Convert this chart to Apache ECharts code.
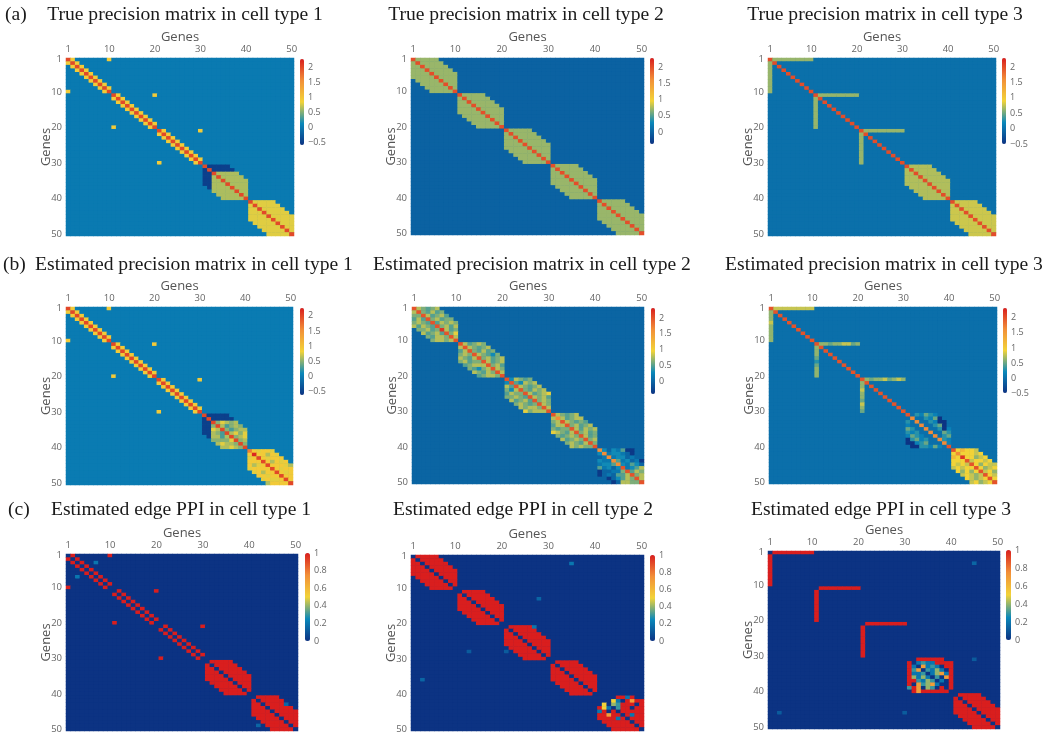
<!DOCTYPE html>
<html>
<head>
<meta charset="utf-8">
<script src="https://cdn.jsdelivr.net/npm/echarts@6/dist/echarts.min.js"></script>
<style>
  html, body { margin: 0; background: #fff; }
  #main { width: 1061px; height: 738px; }
</style>
</head>
<body>
<div id="main"></div>
<script>
// ---- data ---------------------------------------------------------------
const genes = Array.from({ length: 50 }, (_, i) => String(i + 1));
const geneTicks = ['1', '10', '20', '30', '40', '50'];

const titles = [
  'True precision matrix in cell type 1', 'True precision matrix in cell type 2', 'True precision matrix in cell type 3',
  'Estimated precision matrix in cell type 1', 'Estimated precision matrix in cell type 2', 'Estimated precision matrix in cell type 3',
  'Estimated edge PPI in cell type 1', 'Estimated edge PPI in cell type 2', 'Estimated edge PPI in cell type 3'
];
const rowTags = ['(a)', '(b)', '(c)'];

// colour bar ranges and their tick labels
const barRanges = [[-0.6, 2.27], [-0.37, 2.28], [-0.5, 2.29], [-0.61, 2.26], [-0.4, 2.32], [-0.5, 2.33], [0, 1], [0, 1], [0, 1]];
const precTicks = [-0.5, 0, 0.5, 1, 1.5, 2];
const precTicksPos = [0, 0.5, 1, 1.5, 2];
const ppiTicks = [0, 0.2, 0.4, 0.6, 0.8, 1];

// cell codes
const precCodes = { '.': 0, n: -0.5, m: -0.35, c: 0.15, t: 0.3, g: 0.5, o: 0.62, p: 0.7, l: 0.78, y: 0.92, a: 1.2, O: 1.65, R: 2.0, D: 2.2 };
const ppiCodes = { '.': 0, c: 0.2, t: 0.3, g: 0.4, y: 0.5, o: 0.7, O: 0.85, r: 1 };

// (a) true precision, cell type 1
const p1Rings = [[1, 10, 'y'], [11, 20, 'y'], [21, 30, 'y']];
const p1Bands = [[31, 40, 5, 'o'], [41, 50, 5, 'l']];
const p1Hubs = [[31, 32, 36, 'nnnnn', 'nnnnn'], [32, 33, 37, 'nnnnn', 'nnnnn']];

// (a) true precision, cell type 2
const p2Bands = [[1, 10, 5, 'p'], [11, 20, 5, 'p'], [21, 30, 5, 'p'], [31, 40, 5, 'p'], [41, 50, 5, 'p']];

// (a) true precision, cell type 3
const p3Hubs = [[1, 2, 10, 'ooooooooo', 'ooooooooo'], [11, 12, 20, 'ooooooooo', 'ooooooooo'], [21, 22, 30, 'ooooooooo', 'ooooooooo']];
const p3Bands = [[31, 40, 5, 'p'], [41, 50, 5, 'l']];

// (b) estimated precision, cell type 1
const p4Rings = [[1, 10, 'y'], [11, 20, 'y'], [21, 30, 'y']];
const p4Block31 = [
  'Rnnnnn....', 'nRnnnnn...', 'nnRglogo..', 'nngRotgog.', 'nnloRgtgoo',
  'nnogtRolgl', '.nootoRgol', '..gggglRgo', '...oloogRg', '....oologR'];
const p4Block41 = [
  'Oylyyl....', 'yDyyoyl...', 'lyRylyyy..', 'yyyRyoyly.', 'yolyRyyylo',
  'lyyyyRylyy', '.lyoyyRyly', '..yylyyRyy', '...lyllyRy', '....oyyyyR'];

// (b) estimated precision, cell type 2
const p5Block1 = [
  'Rlogol....', 'lRoglgo...', 'ooRlgolg..', 'glgRolgoo.', 'ologRglolo',
  'lglogRolgl', '.oolgoDlgo', '..lgolgRoy', '...oglloRl', '....ollolR'];
const p5Block11 = [
  'Rlgolo....', 'lRlogol...', 'glRoglgo..', 'oloRlogto.', 'loglRolgol',
  'olgooRlgol', '.golllRolg', '..ogtolRlo', '...logloRl', '....golloR'];
const p5Block21 = [
  'Rtlogo....', 'tRgtlol...', 'lgRlogol..', 'otlRoglol.', 'glooRlgoly',
  'oologRlolg', '.lgolgRolo', '..ologoRlo', '...lolloRl', '....yolllR'];
const p5Block31 = [
  'Rlogol....', 'lOlgoll...', 'olRlogog..', 'gllRolgol.', 'ogooRlglol',
  'yloglRolgo', '.ogoloRlgo', '..lgoloRol', '...ologlRo', '....lolooR'];
const p5Block41 = [
  'Ot.tcgmm..', 'tOcttc.m..', '.cOctt.c..', 'tccOgct.cm', 'cttgOtcgt.',
  'gct.tRctgl', 'm..ccoRglo', 'm.c.gglRol', '..m.tgloRl', '...m.llooR'];

// (b) estimated precision, cell type 3
const p6Hubs = [[1, 2, 10, 'lllllllll', 'ooolooooo'], [11, 12, 20, 'oogoollgo', 'ooogtgooo'], [21, 22, 30, 'ogoolgolo', 'oolooglog']];
const p6Block31 = [
  'R.tcgtc...', '.O..tcgn..', 't.O..tcnn.', 'c..O..tgn.', 'gt..O..tnc',
  'tct..O..gt', 'cgtc..O.tg', 'ntgct..Otc', 'nnctg...Oc', '.nnttcgc.R'];
const p6Block41 = [
  'Ryayyl....', 'yOyyyly...', 'ayDyyoly..', 'yyyRlyyly.', 'ylylRyoyll',
  'lylyyRyoly', '.yoyoyRlyo', '..lylolRyl', '...ylolyRy', '....lyolyR'];

// (c) edge PPI, cell type 1
const p7Rings = [[1, 10, 'r'], [11, 20, 'r'], [21, 30, 'r']];
const p7Bands = [[31, 40, 5, 'r'], [41, 50, 5, 'r']];
const p7Spots = [[3, 7, 0.2], [7, 3, 0.2], [43, 48, 0.15], [49, 42, 0.15]];

// (c) edge PPI, cell type 2
const p8Bands = [[1, 10, 5, 'r'], [11, 20, 5, 'r'], [21, 30, 5, 'r'], [31, 40, 5, 'r']];
const p8Block41 = [
  '....rrcr..', '...yc.rorr', '.y.gtrrr.r', 'ryc.trr.rr', 'cr.r.rrrrr',
  'rrorr.rcrr', 'rrrrcr.rrr', '.rrrrrr.rr', '..rrrrrr.r', '...rrrrrr.'];
const p8Spots = [[3, 35, 0.2], [36, 3, 0.15], [13, 28, 0.15], [28, 13, 0.12], [21, 27, 0.2], [28, 21, 0.12]];

// (c) edge PPI, cell type 3
const p9Hubs = [[1, 2, 10, 'rrrrrrrrr', 'rrrrrrrrr'], [11, 12, 20, 'rrrrrrrrr', 'rrrrrrrrr'], [21, 22, 30, 'rrrrrrrrr', 'rrrrrrrrr']];
const p9Bands = [[41, 50, 5, 'r']];
const p9Block31 = [
  '..rrrrrr..', 'r.ctccrrrr', 'rc.octc.rr', 'rto.tcgc.r', 'rcct.cgocr',
  'rgcgc.t.or', 'rrtcgt.c.r', 'r.otgoc..r', 'tro.gt.r.r', '.rorrrrrr.'];
const p9Spots = [[4, 45, 0.15], [46, 3, 0.12], [31, 45, 0.12], [46, 30, 0.12]];

const panelSpecs = [
  { codes: precCodes, diag: 'R', bands: p1Bands, hubs: p1Hubs, rings: p1Rings },
  { codes: precCodes, diag: 'R', bands: p2Bands },
  { codes: precCodes, diag: 'R', bands: p3Bands, hubs: p3Hubs },
  { codes: precCodes, diag: 'R', rings: p4Rings, patches: [[31, 31, p4Block31], [41, 41, p4Block41]] },
  { codes: precCodes, patches: [[1, 1, p5Block1], [11, 11, p5Block11], [21, 21, p5Block21], [31, 31, p5Block31], [41, 41, p5Block41]] },
  { codes: precCodes, diag: 'R', hubs: p6Hubs, patches: [[31, 31, p6Block31], [41, 41, p6Block41]] },
  { codes: ppiCodes, diag: '.', bands: p7Bands, rings: p7Rings, spots: p7Spots },
  { codes: ppiCodes, diag: '.', bands: p8Bands, patches: [[41, 41, p8Block41]], spots: p8Spots },
  { codes: ppiCodes, diag: '.', bands: p9Bands, hubs: p9Hubs, patches: [[31, 31, p9Block31]], spots: p9Spots }
];

// ---- layout (px) ---------------------------------------------------------
const LAYOUT = [
  { grid: [66, 58, 228, 178], bar: [300, 59, 4, 86], title: [185, 15] },
  { grid: [411, 58, 233, 177], bar: [650, 58, 4, 86], title: [526, 15] },
  { grid: [768, 58, 228, 178], bar: [1002, 58, 4, 86], title: [885, 15] },
  { grid: [66, 307, 227, 178], bar: [300, 308, 4, 87], title: [194, 265] },
  { grid: [412, 307, 232, 177], bar: [651, 308, 4, 86], title: [532, 265] },
  { grid: [769, 307, 228, 177], bar: [1003, 308, 4, 85], title: [884, 265] },
  { grid: [66, 554, 232, 177], bar: [305, 553, 5, 88], title: [181, 510] },
  { grid: [411, 555, 233, 176], bar: [650, 555, 5, 86], title: [523, 510] },
  { grid: [768, 551, 232, 178], bar: [1006, 550, 5, 90], title: [881, 510] }
];
const TAGS = [[5, 15], [3, 265], [8, 510]];

const portland = ['rgb(12,51,131)', 'rgb(10,136,186)', 'rgb(242,211,56)', 'rgb(242,143,56)', 'rgb(217,30,30)'];
const AXIS_FONT = 'Open Sans';
const SERIF = 'Liberation Serif';

function buildMatrix(p) {
  const codes = p.codes;
  const m = genes.map(() => genes.map(() => 0));
  const set = (i, j, ch) => { if (ch in codes) m[i - 1][j - 1] = codes[ch]; };
  (p.bands || []).forEach(([a, b, w, ch]) => {
    for (let i = a; i <= b; i++)
      for (let j = a; j <= b; j++)
        if (Math.abs(i - j) <= w) set(i, j, ch);
  });
  (p.hubs || []).forEach(([h, a, b, rowStr, colStr]) => {
    for (let k = a; k <= b; k++) { set(h, k, rowStr[k - a]); set(k, h, colStr[k - a]); }
  });
  (p.rings || []).forEach(([a, b, ch]) => {
    for (let i = a; i < b; i++) { set(i, i + 1, ch); set(i + 1, i, ch); }
    set(a, b, ch); set(b, a, ch);
  });
  if (p.diag) for (let i = 1; i <= 50; i++) set(i, i, p.diag);
  (p.patches || []).forEach(([r0, c0, rows]) => {
    rows.forEach((s, di) => [...s].forEach((ch, dj) => set(r0 + di, c0 + dj, ch)));
  });
  (p.spots || []).forEach(([i, j, v]) => { m[i - 1][j - 1] = v; });
  return m;
}

// colour of the value 0 on a panel's scale, used as the plot backdrop
function zeroColor(min, max) {
  const t = (0 - min) / (max - min) * (portland.length - 1);
  const i = Math.min(Math.floor(t), portland.length - 2), f = t - i;
  const a = portland[i].match(/\d+/g).map(Number), b = portland[i + 1].match(/\d+/g).map(Number);
  return 'rgb(' + a.map((v, c) => Math.round(v + (b[c] - v) * f)).join(',') + ')';
}

const showTick = (idx, val) => geneTicks.includes(val);
const mapGrids = [], mapX = [], mapY = [], barGrids = [], barX = [], barY = [];
const series = [], visualMaps = [], graphics = [];

LAYOUT.forEach((L, k) => {
  const [gl, gt, gw, gh] = L.grid;
  const [vmin, vmax] = barRanges[k];
  mapGrids.push({
    left: gl, top: gt, width: gw, height: gh, outerBoundsMode: 'none',
    show: true, borderWidth: 0, backgroundColor: zeroColor(vmin, vmax)
  });
  mapX.push({
    type: 'category', gridIndex: k, data: genes, position: 'top',
    name: 'Genes', nameLocation: 'middle', nameGap: 14, nameMoveOverlap: false,
    nameTextStyle: { fontFamily: AXIS_FONT, fontSize: 13, color: '#555' },
    axisLine: { show: false }, axisTick: { show: false }, splitLine: { show: false },
    axisLabel: { interval: showTick, margin: 4, fontSize: 9.5, color: '#666', fontFamily: AXIS_FONT }
  });
  mapY.push({
    type: 'category', gridIndex: k, data: genes, inverse: true,
    name: 'Genes', nameLocation: 'middle', nameGap: 13, nameRotate: 90, nameMoveOverlap: false,
    nameTextStyle: { fontFamily: AXIS_FONT, fontSize: 13, color: '#555' },
    axisLine: { show: false }, axisTick: { show: false }, splitLine: { show: false },
    axisLabel: { interval: showTick, margin: 4, fontSize: 9.5, color: '#666', fontFamily: AXIS_FONT }
  });

  const m = buildMatrix(panelSpecs[k]);
  const data = [];
  m.forEach((row, i) => row.forEach((v, j) => data.push([j, i, v])));
  series.push({
    type: 'heatmap', xAxisIndex: k, yAxisIndex: k, data,
    itemStyle: { borderWidth: 0 }, emphasis: { disabled: true }, progressive: 0
  });

  const [bx, by, bw, bh] = L.bar;
  visualMaps.push({
    type: 'continuous', seriesIndex: k, min: vmin, max: vmax,
    left: bx, top: by, itemWidth: bw, itemHeight: bh, padding: 0,
    calculable: false, hoverLink: false, inRange: { color: portland }
  });

  // colour bar tick labels, on an axis that spans the bar
  barGrids.push({ left: bx, top: by, width: bw, height: bh, outerBoundsMode: 'none' });
  barX.push({ type: 'value', gridIndex: 9 + k, show: false, min: 0, max: 1 });
  const ticks = k >= 6 ? ppiTicks : (k === 1 || k === 4 ? precTicksPos : precTicks);
  barY.push({
    type: 'value', gridIndex: 9 + k, min: vmin, max: vmax, position: 'right',
    axisLine: { show: false }, axisTick: { show: false }, splitLine: { show: false },
    axisLabel: {
      customValues: ticks, margin: 4, fontSize: 9, color: '#666', fontFamily: AXIS_FONT,
      formatter: v => String(+v.toFixed(2)).replace('-', '\u2212')
    }
  });

  graphics.push({
    type: 'text', x: L.title[0], y: L.title[1],
    style: {
      text: titles[k], fill: '#1a1a1a', font: '19.6px "' + SERIF + '"',
      textAlign: 'center', align: 'center', textVerticalAlign: 'middle', verticalAlign: 'middle'
    }
  });
});

rowTags.forEach((t, r) => {
  graphics.push({
    type: 'text', x: TAGS[r][0], y: TAGS[r][1],
    style: {
      text: t, fill: '#1a1a1a', font: '19.6px "' + SERIF + '"',
      textAlign: 'left', align: 'left', textVerticalAlign: 'middle', verticalAlign: 'middle'
    }
  });
});

const chart = echarts.init(document.getElementById('main'), null, { renderer: 'canvas' });
chart.setOption({
  animation: false,
  backgroundColor: '#fff',
  grid: mapGrids.concat(barGrids),
  xAxis: mapX.concat(barX),
  yAxis: mapY.concat(barY),
  visualMap: visualMaps,
  series,
  graphic: graphics
});
</script>
</body>
</html>
